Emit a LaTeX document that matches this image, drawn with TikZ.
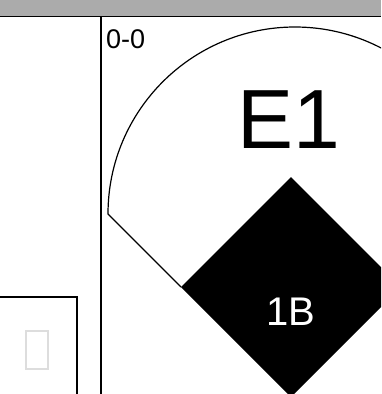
\documentclass[tikz,border=0pt]{standalone}
\usepackage{fontspec}
\setmainfont{Liberation Sans}
\usepackage{tikz}
\usetikzlibrary{shapes.geometric,calc}
\definecolor{bargray}{HTML}{ABABAB}
\definecolor{tofugray}{HTML}{DDDDDD}
\tikzstyle{frame}  =[draw=black, line width=1.6pt]
\tikzstyle{field}  =[draw=black, line width=1.2pt]
\tikzstyle{base}   =[diamond, fill=black, aspect=1, inner sep=0pt, outer sep=0pt,
                     minimum width=220pt, minimum height=220pt]
\tikzstyle{score}  =[anchor=base west, inner sep=0pt, font=\fontsize{27}{27}\selectfont]

\begin{document}
\begin{tikzpicture}[x=1pt, y=-1pt]
  \useasboundingbox (0,0) rectangle (381,394);
  \clip (0,0) rectangle (381,394);

  % ── top bar and panels ─────────────────────────────────────────────────────
  \fill[bargray] (0,0) rectangle (381,16);
  \draw[black, line width=1pt] (0,16) -- (381,16);
  \draw[frame] (101,16) -- (101,394);
  \draw[frame] (0,297) -- (77,297) -- (77,394);
  \draw[tofugray, line width=1.4pt] (26,331) rectangle (48,369);

  % ── field ──────────────────────────────────────────────────────────────────
  \node[base] (first) at (291,287) {};
  \coordinate (foul) at (108,214);
  \draw[field] (first.west) -- (foul) arc[start angle=180, end angle=350, radius=187];

  % ── labels ─────────────────────────────────────────────────────────────────
  \node[score] (count) at (106,48) {0-0};
  \node[font=\fontsize{84}{84}\selectfont, inner sep=0pt] (err) at (289,120) {E1};
  \node[white, font=\fontsize{40}{40}\selectfont, inner sep=0pt] (bag) at (291,312) {1B};

\end{tikzpicture}
\end{document}
